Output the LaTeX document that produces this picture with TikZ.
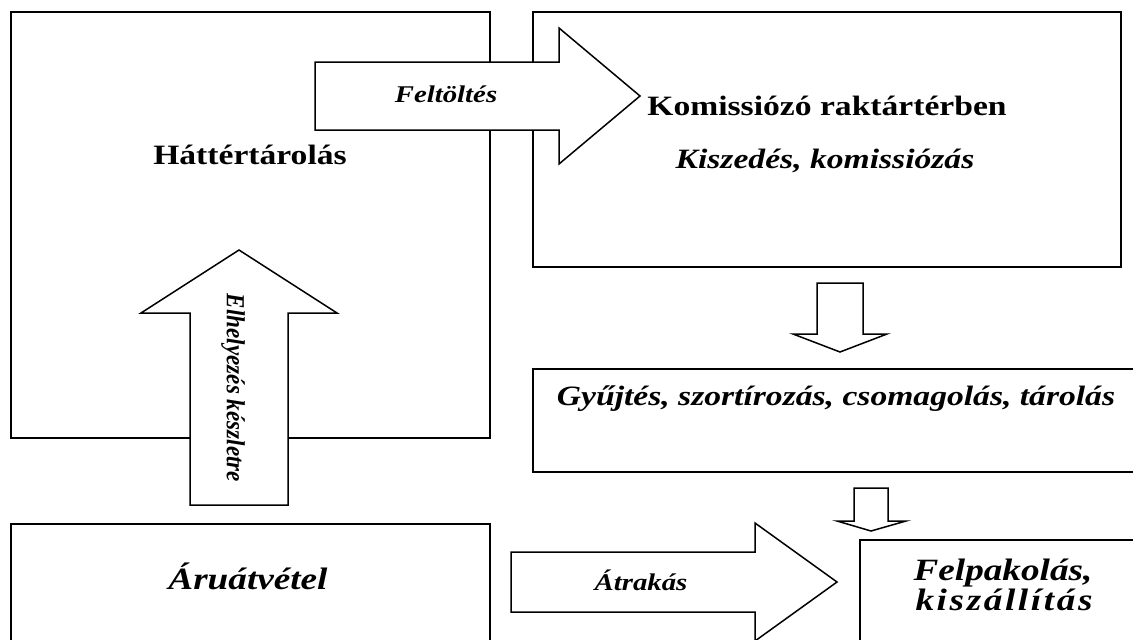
\documentclass[tikz,border=0pt]{standalone}
\usepackage{fontspec}
\setmainfont{Liberation Serif}
\newcommand\stretchtxt[1]{\scalebox{1.2}[1]{#1}}
\begin{document}
\begin{tikzpicture}[x=1pt,y=-1pt,
  box/.style={draw, line width=1.5pt, fill=white, inner sep=0pt, anchor=north west},
  blockarrow/.style={draw, line width=1.5pt, fill=white, line join=miter},
  lbl/.style={inner sep=0pt, anchor=base},
  bigbf/.style={font=\fontsize{28}{30}\selectfont\bfseries},
  bigit/.style={font=\fontsize{28}{30}\selectfont\bfseries\itshape},
  midit/.style={font=\fontsize{24}{26}\selectfont\bfseries\itshape},
  hugeit/.style={font=\fontsize{31}{33}\selectfont\bfseries\itshape}]
\useasboundingbox (0,0) rectangle (1133,640);
\clip (0,0) rectangle (1133,640);

% process boxes
\node[box, minimum width=479pt, minimum height=426pt] (hatter) at (10,11) {};
\node[box, minimum width=588pt, minimum height=255pt] (komis) at (532,11) {};
\node[box, minimum width=640pt, minimum height=103pt] (gyujt) at (532,368) {};
\node[box, minimum width=479pt, minimum height=160pt] (aru) at (10,523) {};
\node[box, minimum width=320pt, minimum height=160pt] (felpak) at (859,539) {};

% block arrows
\draw[blockarrow] (315,62) -- (559,62) -- (559,28) -- (640,96) -- (559,164)
  -- (559,130) -- (315,130) -- cycle;
\draw[blockarrow] (190,505) -- (190,313) -- (141,313) -- (239,250) -- (337,313)
  -- (288,313) -- (288,505) -- cycle;
\draw[blockarrow] (817,283) -- (863,283) -- (863,334) -- (887,334) -- (840,352)
  -- (793,334) -- (817,334) -- cycle;
\draw[blockarrow] (854,488) -- (888,488) -- (888,521) -- (906,521) -- (871,531)
  -- (837,521) -- (854,521) -- cycle;
\draw[blockarrow] (511,552) -- (755,552) -- (755,523) -- (837,582) -- (755,641)
  -- (755,612) -- (511,612) -- cycle;

% labels
\node[lbl, bigbf] (thatter) at (250,164) {\stretchtxt{Háttértárolás}};
\node[lbl, bigbf] (tkomis) at (827,115) {\stretchtxt{Komissiózó raktártérben}};
\node[lbl, bigit] (tkisz) at (825,168) {\stretchtxt{Kiszedés, komissiózás}};
\node[lbl, midit] (tfelt) at (446,102) {\stretchtxt{Feltöltés}};
\node[lbl, bigit] (tgyujt) at (836,405) {\stretchtxt{Gyűjtés, szortírozás, csomagolás, tárolás}};
\node[lbl, midit] (tatrak) at (641,590) {\stretchtxt{Átrakás}};
\node[lbl, hugeit] (taru) at (248,589) {\stretchtxt{Áruátvétel}};
\node[lbl, hugeit] (tfelp1) at (1003,580) {\stretchtxt{Felpakolás,}};
\node[lbl, hugeit] (tfelp2) at (1004,610)
  {\stretchtxt{\addfontfeatures{LetterSpace=7}kiszállítás}};
\node[inner sep=0pt, rotate=-90, font=\fontsize{26}{28}\selectfont\bfseries\itshape]
  (telh) at (233,388) {\scalebox{0.89}[1]{Elhelyezés készletre}};
\end{tikzpicture}
\end{document}
